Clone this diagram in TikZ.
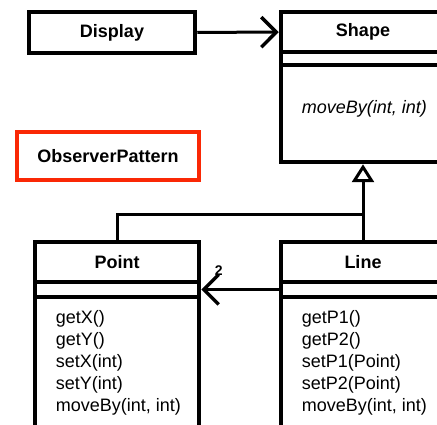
\documentclass[tikz,border=0pt]{standalone}
\usepackage{fontspec}
\setmainfont{Liberation Sans}
\usetikzlibrary{arrows.meta,positioning}
\tikzset{>={Straight Barb[length=15pt,width=30pt,line width=3.5pt]}}
\definecolor{obsred}{RGB}{250,40,5}

\begin{document}
\begin{tikzpicture}[x=1pt,y=-1pt]
\clip (0,0) rectangle (437,425);
\begin{scope}[every node/.style={rectangle,draw,line width=4.5pt,inner sep=0pt,
        minimum width=164pt,font=\fontsize{18}{22}\selectfont}]
% Shape
\node (SH) at (363,32) [minimum height=40pt] {\textbf{Shape}};
\node (SA) at (363,58.5) [minimum height=13pt] {};
\node (SM) at (363,113.5) [minimum height=97pt] {};
% Display
\node (D) at (112,32.5) [minimum width=166pt,minimum height=41pt] {\textbf{Display}};
% Point
\node (PH) at (117,262) [minimum height=40pt] {\textbf{Point}};
\node (PA) at (117,289.5) [minimum height=15pt] {};
\node (PM) at (117,362.5) [minimum height=131pt] {};
% Line
\node (LH) at (363,262) [minimum height=40pt] {\textbf{Line}};
\node (LA) at (363,289.5) [minimum height=15pt] {};
\node (LM) at (363,362.5) [minimum height=131pt] {};
% ObserverPattern
\node (OP) at (108,156) [draw=obsred,minimum width=182pt,minimum height=48pt] {\textbf{ObserverPattern}};
\end{scope}
\begin{scope}[every node/.style={anchor=west,xshift=23pt,align=left,inner sep=0pt,
        font=\fontsize{18}{22}\selectfont}]
\node (SMt) at (SM.west) [yshift=5pt] {\textit{moveBy(int, int)}};
\node (PMt) at (PM.west) {getX()\\getY()\\setX(int)\\setY(int)\\moveBy(int, int)};
\node (LMt) at (LM.west) {getP1()\\getP2()\\setP1(Point)\\setP2(Point)\\moveBy(int, int)};
\end{scope}
\coordinate (J) at (363,215);
\begin{scope}[every edge/.style={draw=black,line width=3pt}]
    \path [->] (D) edge (SH);
    \path [->,line width=2.5pt] (LA) edge node[anchor=south west,xshift=12pt,yshift=12pt,inner sep=0pt,pos=1,font=\fontsize{14}{14}\selectfont\bfseries] {2} (PA);
    \path [-{Triangle[open,length=18pt,width=22pt,line width=3pt]}] (LH) edge (SM);
    \path (PH) edge[to path={|- (\tikztotarget)}] (J);
\end{scope}
\end{tikzpicture}
\end{document}
